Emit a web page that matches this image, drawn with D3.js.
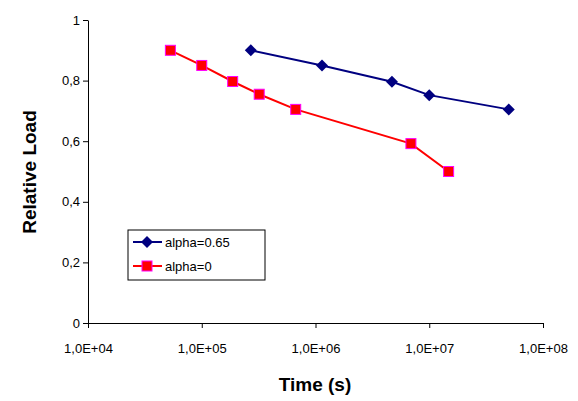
<!DOCTYPE html>
<html><head><meta charset="utf-8">
<script src="https://cdn.jsdelivr.net/npm/d3@7"></script>
<style>body{margin:0;background:#fff}text{font-family:"Liberation Sans",Arial,sans-serif}</style>
</head><body><svg id="c" width="578" height="401"></svg>
<script>
const blueX=[2.7e5,1.14e6,4.7e6,1.0e7,5.0e7];
const blueY=[0.9,0.85,0.796,0.752,0.705];
const redX=[5.3e4,1.0e5,1.87e5,3.2e5,6.7e5,6.9e6,1.48e7];
const redY=[0.9,0.85,0.797,0.755,0.705,0.592,0.5];
const xTicks=[1e4,1e5,1e6,1e7,1e8];
const xLabels=["1,0E+04","1,0E+05","1,0E+06","1,0E+07","1,0E+08"];
const yTicks=[0,0.2,0.4,0.6,0.8,1];
const yLabels=["0","0,2","0,4","0,6","0,8","1"];
const svg=d3.select("#c");
const x=d3.scaleLog().domain([1e4,1e8]).range([88,543]);
const y=d3.scaleLinear().domain([0,1]).range([323,20]);
const gx=svg.append("g").attr("transform","translate(0,323)").call(d3.axisBottom(x).tickValues(xTicks).tickFormat((d,i)=>xLabels[i]).tickSize(5).tickSizeOuter(0));
const gy=svg.append("g").attr("transform","translate(88,0)").call(d3.axisLeft(y).tickValues(yTicks).tickFormat((d,i)=>yLabels[i]).tickSize(5).tickSizeOuter(0));
[gx,gy].forEach(g=>{g.selectAll("path,line").attr("stroke","#000");g.selectAll("text").attr("font-size",13).attr("fill","#000");});
gx.selectAll("text").attr("dy","1.7em");
svg.append("text").attr("x",315).attr("y",391).attr("text-anchor","middle").attr("font-size",19).attr("font-weight","bold").text("Time (s)");
svg.append("text").attr("transform","translate(36,172) rotate(-90)").attr("text-anchor","middle").attr("font-size",19).attr("font-weight","bold").text("Relative Load");
const line=d3.line().x(d=>x(d[0])).y(d=>y(d[1]));
const b=blueX.map((v,i)=>[v,blueY[i]]), r=redX.map((v,i)=>[v,redY[i]]);
svg.append("path").datum(b).attr("d",line).attr("fill","none").attr("stroke","#000080").attr("stroke-width",2);
svg.append("path").datum(r).attr("d",line).attr("fill","none").attr("stroke","#ff0000").attr("stroke-width",2);
const dia="M0,-6L6,0L0,6L-6,0Z";
svg.selectAll(".b").data(b).join("path").attr("d",dia).attr("transform",d=>`translate(${x(d[0])},${y(d[1])})`).attr("fill","#000080");
svg.selectAll(".r").data(r).join("rect").attr("x",d=>x(d[0])-5).attr("y",d=>y(d[1])-5).attr("width",10).attr("height",10).attr("fill","#ff0000").attr("stroke","#ff00ff").attr("stroke-width",1);
const lg=svg.append("g");
lg.append("rect").attr("x",128).attr("y",230).attr("width",137).attr("height",50).attr("fill","#fff").attr("stroke","#000");
lg.append("line").attr("x1",133).attr("x2",162).attr("y1",242).attr("y2",242).attr("stroke","#000080").attr("stroke-width",2);
lg.append("path").attr("d",dia).attr("transform","translate(147,242)").attr("fill","#000080");
lg.append("text").attr("x",165).attr("y",247).attr("font-size",13).text("alpha=0.65");
lg.append("line").attr("x1",133).attr("x2",162).attr("y1",266).attr("y2",266).attr("stroke","#ff0000").attr("stroke-width",2);
lg.append("rect").attr("x",142).attr("y",261).attr("width",10).attr("height",10).attr("fill","#ff0000").attr("stroke","#ff00ff");
lg.append("text").attr("x",165).attr("y",271).attr("font-size",13).text("alpha=0");
</script></body></html>
